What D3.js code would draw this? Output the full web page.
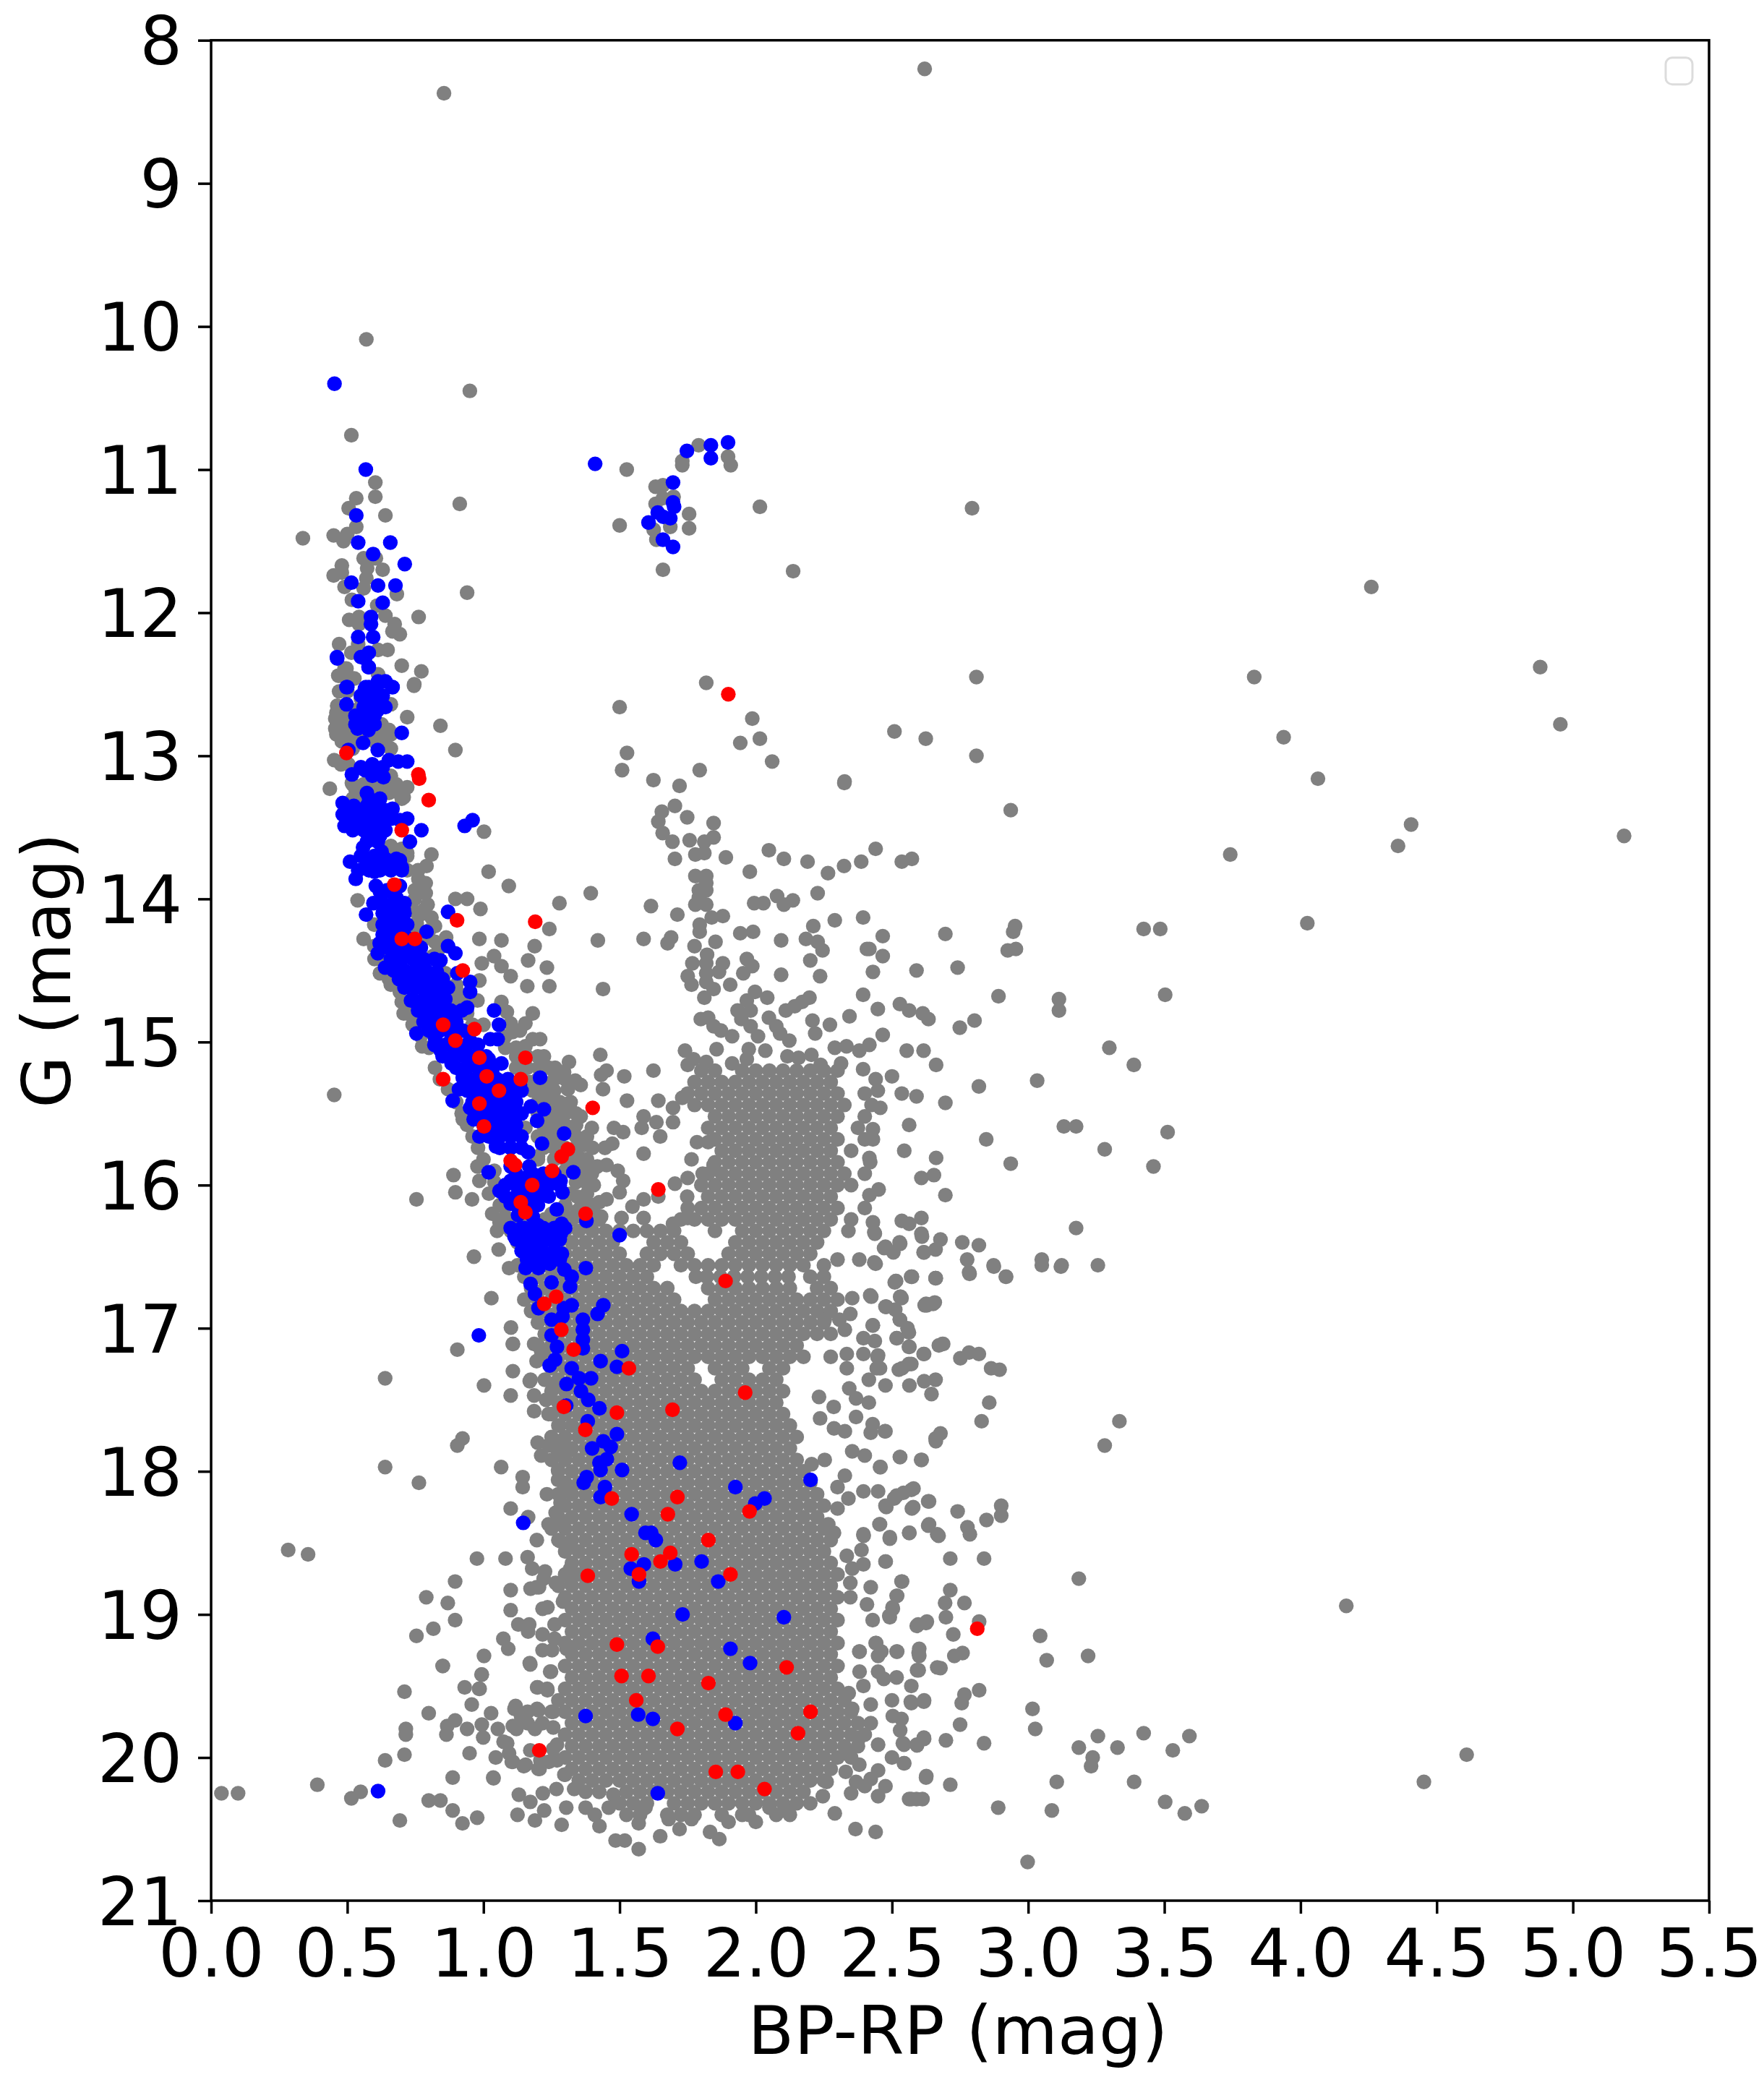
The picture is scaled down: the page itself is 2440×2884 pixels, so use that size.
<!DOCTYPE html>
<html>
<head>
<meta charset="utf-8">
<script src="https://d3js.org/d3.v7.min.js"></script>
<style>
html, body { margin: 0; padding: 0; background: #fff; }
svg { display: block; filter: blur(0.7px); }
text { font-family: "DejaVu Sans"; fill: #000; }
</style>
</head>
<body>
<svg width="2440" height="2884"></svg>
<script>
var xTicks = [0, 0.5, 1, 1.5, 2, 2.5, 3, 3.5, 4, 4.5, 5, 5.5];
var yTicks = [8, 9, 10, 11, 12, 13, 14, 15, 16, 17, 18, 19, 20, 21];

// field stars as [BP-RP, G]
var grayBright = [[2.62,8.2],[.855,8.37],[.57,10.09],[.95,10.45],[.515,10.76],[.603,11.09],[.603,11.19],[.533,11.2],[.505,11.27],[.64,11.32],[.913,11.24],[.533,11.4],[.45,11.46],[.5,11.45],[.486,11.5],[.337,11.48],[.56,11.62],[.605,11.62],[.63,11.7],[.573,11.69],[.48,11.67],[.45,11.74],[.48,11.72],[.57,11.76],[.49,11.82],[.56,11.83],[.682,11.87],[.94,11.86],[.517,11.91],[.61,11.95],[.64,12.02],[.507,12.05],[.543,12.03],[.762,12.03],[.674,12.08],[.543,12.08],[.666,12.13],[.693,12.15],[.47,12.22],[.54,12.22],[.648,12.26],[.613,12.26],[.515,12.28],[.7,12.37],[.772,12.41],[.497,12.39],[.467,12.44],[.526,12.46],[.613,12.43],[.746,12.5],[.745,12.51],
[1.526,11],[1.79,10.83],[1.898,10.91],[1.908,10.97],[1.73,10.94],[1.73,10.97],[1.632,11.12],[1.659,11.11],[1.632,11.24],[1.659,11.2],[1.698,11.19],[1.755,11.31],[1.755,11.41],[1.5,11.39],[1.686,11.4],[1.625,11.42],[1.635,11.49],[1.659,11.7],[2.015,11.26],[2.137,11.71],[1.818,12.49],
[4.26,11.82],[4.88,12.38],[4.954,12.78],[3.83,12.45],[3.938,12.87],[4.064,13.16],[4.406,13.48],[4.358,13.63],[3.742,13.69],[5.188,13.56],[4.025,14.17],[2.81,12.45],[2.81,13],[2.794,11.27],[2.936,13.38],[2.624,12.88],[2.509,12.83],[2.325,13.19]];

var grayBand = [[.49,12.39],[.47,12.44],[.517,12.46],[.463,12.65],[.456,12.74],[.456,12.81],[.49,12.81],[.504,12.73],[.626,12.78],[.653,12.82],[.599,12.86],[.517,12.88],[.55,12.6],[.53,12.68],[.6,12.72],[.48,12.9],[.531,13.24],[.653,13.26],[.707,13.29],[.72,13.22],[.517,13.19],[.612,13.22],[.66,13.14],[.477,13.06],[.504,13.06],[.66,12.64],[.66,13.63],[.68,13.67],[.72,13.68],[.761,13.86],[.788,13.89],[.748,13.94],[.788,13.96],[.748,14],[.795,14.04],[.768,14.11],[.809,14.13],[.822,14.19],[.755,14.17],[.538,14.01],[.599,14.18],[.822,14.3],[.863,14.27],[.836,14.35],[.815,14.4],[.599,14.33],[.653,14.56],[.693,14.65],[.876,14.63],[.904,14.65],[.978,14.71],[.985,14.57],[1.066,14.72],[1.086,14.79],[1.1,14.87],[1.134,14.92],[1.181,14.8],[1.154,14.87],[1.107,14.93],[1.181,14.98],[1.208,14.98],[1.154,15.03],[1.222,15.1],[1.263,15.18],[1.296,15.21],[1.202,15.18],[1.236,15.3],[1.168,15.28],[1.236,15.4],[1.317,15.46],[1.357,15.52],[1.29,15.51],[1.317,15.6],[1.236,15.56],[1.154,15.6],[1.371,15.72],[1.344,15.79],[1.371,15.87],[1.317,15.87],[1.385,16],[1.344,16.08],[1.425,16.12],[1.344,16.18],[1.432,16.22],[1.507,16.23],[.707,14.8],[.775,15.03],[.822,15.18],[.87,15.33],[.924,15.54],[.978,15.87],[.985,15.97],[.89,15.93],[.897,16.05],[.958,16.1],[.754,16.1],[.452,15.37],[1.032,16.2],[1.059,16.26],[1.27,15.7],[1.2,15.8],[1.3,15.9],[1.2,16.1],[1.25,16.2],
[.436,13.23],[.452,13.03],[.809,13.69],[.791,13.77],[.897,14],[.94,14],[.989,14.07],[.72,12.73],[.842,12.79],[.897,12.96],[1.002,13.53],[1.019,13.81],[1.093,13.91],[1.279,14.03],[1.394,13.96],[1.242,14.21],[1.188,14.33],[1.066,14.29],[.985,14.28],[1.233,14.48],[1.164,14.43],[1.039,14.4],[1.066,14.47],[1.1,14.54],[.994,14.45],[1.161,14.61],[1.242,14.61],[1.439,14.63],[1.42,14.29],
[1.429,15.09],[1.314,15.14],[1.27,15.2],[1.452,15.2],[1.432,15.23],[1.517,15.24],[1.624,15.2],[1.337,15.27],[1.357,15.3],[1.31,15.33],[1.439,15.33],[1.527,15.41],[1.642,15.41],[1.73,15.39],[1.696,15.46],[1.588,15.52],[1.635,15.56],[1.696,15.56],[1.581,15.6],[1.649,15.66],[1.398,15.6],[1.479,15.6],[1.513,15.63],[1.588,15.78],[1.446,15.74],[1.473,15.71],[1.764,15.82],[1.784,15.7],[1.825,15.7],[1.452,15.86],[1.493,15.9],[1.513,15.97],[1.5,16.05],[1.452,16.1],[1.405,16],[1.398,15.92],[1.418,15.87],[1.703,15.99],[1.75,15.95],[1.805,15.92],[1.845,15.86],[1.748,16.08],[1.547,16.15],[1.588,16.1],[1.642,16.08],[1.588,16.23],[1.696,16.27],[1.75,16.23]];

// gray stars behind the main sequence, [G, BP-RP, BP-RP, ...]
var grayBandRows = [[12.55,.47,.5],[12.7,.46,.48],[12.78,.48,.5,.52],[12.85,.46,.5,.54,.62,.66],[12.9,.56,.6,.64],[12.95,.52,.66],[13.2,.52,.56,.6,.64,.68],[13.25,.56,.6,.64,.68],[13.3,.52,.56,.62,.7],[13.65,.64,.7],[13.7,.68,.72],[13.8,.72,.76],[14.08,.74,.78],[14.22,.76,.8],[14.28,.56,.78],[14.42,.62,.6],[14.52,.62,.86],[14.6,.66,.86,.9],[14.72,.7,.9,.94],[14.8,.72,.74,.94],[14.88,.74,.96,1],[14.96,.77,1.08],[15.04,.8,1.08,1.12],
[15.1,1.12,1.16,1.2],[15.18,1.12,1.16,1.24],[15.26,.84,1.14,1.2,1.26,1.3],[15.34,1.18,1.22,1.26],[15.42,.9,1.2,1.24,1.28,1.32],[15.5,.92,1.2,1.26,1.3,1.34],[15.58,.94,1.22,1.26,1.3,1.34],[15.66,.96,1.2,1.24,1.28,1.34,1.38],[15.74,.98,1.22,1.26,1.3,1.34,1.4],[15.82,1,1.2,1.26,1.3,1.34,1.38],[15.9,1.04,1.32,1.36,1.4],[15.98,1.04,1.34,1.38],[16.06,1.02,1.32,1.38],[16.14,1.06,1.3,1.36,1.4],[16.22,1.08,1.3,1.36,1.42]];

var grayGiant = [[1.5,12.66],[1.987,12.74],[2.015,12.88],[1.943,12.91],[2.06,13.04],[1.527,12.98],[1.509,13.1],[1.624,13.17],[1.794,13.1],[1.72,13.21],[2.326,13.18],[1.703,13.35],[1.655,13.39],[1.642,13.46],[1.658,13.54],[1.694,13.6],[1.748,13.43],[1.845,13.47],[1.757,13.59],[1.845,13.57],[1.811,13.6],[1.778,13.69],[1.811,13.68],[1.703,13.72],[1.89,13.71],[2.048,13.66],[2.103,13.72],[2.19,13.74],[2.265,13.82],[2.324,13.77],[2.387,13.74],[1.978,13.81],[1.778,13.84],[1.818,13.84],[1.818,13.89],[1.791,13.94],[1.818,13.94],[1.778,14.04],[1.818,14.04],[1.791,13.99],[2.078,13.98],[2.103,14.04],[2.136,14.01],[2.227,13.96],[1.994,14.03],[2.028,14.03],[2.29,14.15],[2.394,14.13],[1.615,14.05],[1.712,14.11],[1.838,14.13],[1.879,14.12],[1.794,14.18],[1.794,14.23],[2.211,14.19],[1.943,14.24],[1.99,14.23],[1.588,14.28],[1.689,14.27],[1.676,14.31],[1.852,14.3],[1.775,14.33],[2.093,14.29],[2.184,14.28],[2.227,14.3],[2.245,14.36],[2.408,14.35],[1.821,14.39],[2.2,14.43],[1.967,14.42],[1.987,14.47],[1.954,14.52],[1.879,14.45],[1.865,14.51],[1.767,14.45],[1.818,14.45],[1.818,14.52],[1.75,14.54],[1.764,14.6],[1.818,14.58],[1.845,14.63],[1.811,14.69],[1.906,14.6],[2.093,14.53],[2.236,14.54],[2.394,14.67],
[1.997,14.65],[2.042,14.69],[1.967,14.71],[2.197,14.69],[2.17,14.72],[2.143,14.75],[2.11,14.78],[1.933,14.78],[1.981,14.78],[1.825,14.83],[1.798,14.84],[1.947,14.84],[2.048,14.83],[2.344,14.82],[2.208,14.85],[2.272,14.88],[1.845,14.89],[2.075,14.89],[1.981,14.89],[1.913,14.96],[1.872,14.92],[2.008,14.96],[2.089,14.94],[2.218,14.94],[2.123,14.99],[2.29,15.04],[2.333,15.03],[2.38,15.06],[1.74,15.06],[1.856,15.05],[1.974,15.05],[2.035,15.06],[2.116,15.1],[2.204,15.09],[1.771,15.12],[1.818,15.14],[1.913,15.15],[1.967,15.12],[2.157,15.11],[2.238,15.16],[2.313,15.15],[2.394,15.19],[1.75,15.16]];

var grayRight = [[2.44,13.65],[2.536,13.74],[2.573,13.72],[2.952,14.19],[2.945,14.23],[2.955,14.35],[2.925,14.36],[3.424,14.21],[3.485,14.21],[2.696,14.245],[2.466,14.26],[2.417,14.35],[2.466,14.4],[2.43,14.51],[2.59,14.5],[2.741,14.48],[2.891,14.68],[3.113,14.7],[3.113,14.78],[3.503,14.67],[2.529,14.735],[2.448,14.77],[2.563,14.78],[2.613,14.8],[2.634,14.84],[2.749,14.9],[2.803,14.85],[2.466,14.95],[2.417,15.02],[2.554,15.06],[2.616,15.06],[2.662,15.16],[3.298,15.04],[3.388,15.16],[3.033,15.27],[2.819,15.31],[2.5,15.24],[2.44,15.26],[2.448,15.34],[2.536,15.36],[2.59,15.38],[2.696,15.425],[2.457,15.46],[2.563,15.58],[2.43,15.61],[2.43,15.68],[3.131,15.59],[3.176,15.59],[3.512,15.63],[2.846,15.68],[2.545,15.76],[3.281,15.75],[2.662,15.81],[2.417,15.81],[2.936,15.85],[3.46,15.87],[2.654,15.93],[2.608,15.95],[2.696,16.07],[2.451,16.03],[2.417,16.07],[2.536,16.25],[2.563,16.27],[2.608,16.23],[2.608,16.34],[2.43,16.26],[2.437,16.34],[3.176,16.3],[2.528,16.4],[2.471,16.44],[2.505,16.47],[2.678,16.38],[2.66,16.45],[2.616,16.47],[2.758,16.4],[2.819,16.42],[2.776,16.52],[2.785,16.62],[2.873,16.56],[2.918,16.64],[3.05,16.52],[3.123,16.56],[3.256,16.56],[2.44,16.55],[2.573,16.64],[2.514,16.67],[2.66,16.65],[2.424,16.78],[2.532,16.78],[2.478,16.85],[2.512,16.87],[2.62,16.84],[2.651,16.83],[2.529,16.94],[2.43,16.98],[2.562,17.03],[2.518,17.07],[2.437,17.09],[2.562,17.13],[2.688,17.11],[2.616,17.18],[2.447,17.2],[2.751,17.21],[2.783,17.17],[2.819,17.18],[2.864,17.28],[2.895,17.29],[2.562,17.25],[2.525,17.29],[2.444,17.28],
[2.34,16.32],[2.435,16.33],[2.476,16.43],[2.53,16.41],[2.61,16.36],[2.618,16.47],[2.66,16.65],[2.57,16.64],[2.51,16.68],[2.435,16.54],[2.38,16.52],[2.3,16.52],[2.42,16.77],[2.354,16.79],[2.53,16.78],[2.476,16.85],[2.625,16.83],[2.347,16.9],[2.253,16.94],[2.307,16.94],[2.429,16.98],[2.557,17],[2.517,17.07],[2.395,17.07],[2.327,17.01],[2.564,17.13],[2.672,17.12],[2.618,17.18],[2.334,17.18],[2.395,17.18],[2.449,17.19],[2.334,17.28],[2.456,17.28],[2.537,17.28],[2.571,17.25],[2.415,17.36],[2.476,17.4],[2.564,17.4],[2.618,17.37],[2.66,17.36],[2.343,17.42],[2.645,17.46],[2.368,17.49],[2.415,17.52],[2.232,17.48],[2.286,17.55],[2.368,17.62],[2.236,17.63],[2.429,17.67],[2.476,17.72],[2.422,17.73],[2.66,17.77],[2.327,17.72],[2.287,17.7],[2.253,17.92],[2.354,17.86],[2.4,17.89],[2.53,17.9],[2.609,17.92],[2.456,17.97],[2.205,17.95],[2.327,18.03],[2.3,18.11],[2.395,18.14],[2.449,18.14],[2.476,18.24],[2.517,18.17],[2.571,18.13],[2.578,18.25],[2.636,18.21],[2.34,18.19],[2.3,18.26],[2.456,18.37],[2.395,18.44],[2.492,18.47],[2.564,18.43],[2.636,18.37],[2.666,18.44],[2.266,18.37],[2.287,18.43],[2.476,18.63],[2.537,18.77],[2.388,18.55],[2.334,18.59],[2.395,18.65],[2.354,18.68],[2.422,18.81],[2.347,18.78],[2.517,18.87],[2.503,18.96],[2.49,19.01],[2.347,18.88],[2.408,18.93],[2.429,19.04],[2.591,19.08],[2.625,19.06],[2.381,19.26],[2.442,19.2],[2.449,19.29],[2.517,19.26],[2.598,19.27],[2.598,19.39],[2.666,19.37],[2.449,19.4],[2.381,19.4],[2.517,19.44],[2.571,19.5],[2.395,19.5],[2.341,19.55],[2.571,19.62],[2.618,19.6],[2.422,19.63],[2.354,19.66],[2.503,19.71],[2.422,19.76],[2.53,19.81],[2.618,19.87],[2.591,19.91],[2.544,19.91],[2.449,19.91],[2.381,19.86],[2.341,19.96],[2.544,20.04],[2.449,20.09],[2.422,20.15],[2.625,20.14],[2.476,20.2],[2.368,20.17],[2.26,20.17],[2.449,20.27],[2.571,20.29],[2.612,20.29],[2.246,20.27],
[2.573,16.64],[2.661,16.65],[2.515,16.67],[2.783,16.61],[2.919,16.64],[2.874,16.57],[3.12,16.57],[3.05,16.56],[2.628,16.84],[2.657,16.82],[2.479,16.85],[2.535,16.79],[2.529,16.94],[2.685,17.11],[2.857,17.52],[2.829,17.65],[3.335,17.65],[3.281,17.82],[2.678,17.735],[2.661,17.79],[2.474,17.72],[2.529,17.9],[2.607,17.92],[2.458,17.97],[2.579,18.12],[2.542,18.15],[2.508,18.19],[2.479,18.25],[2.633,18.21],[2.573,18.26],[2.741,18.28],[2.901,18.24],[2.901,18.31],[2.847,18.34],[2.633,18.38],[2.671,18.45],[2.777,18.39],[2.786,18.44],[2.563,18.43],[2.492,18.46],[2.454,18.37],[2.396,18.45],[2.477,18.63],[2.714,18.61],[2.838,18.61],[3.186,18.75],[2.535,18.77],[2.714,18.83],[2.519,18.87],[2.695,18.92],[2.766,18.92],[2.502,18.95],[2.492,19.02],[2.698,19.02],[2.82,19.05],[2.628,19.05],[2.596,19.07],[2.725,19.14],[3.044,19.15],[4.168,18.94],[3.068,19.32],[3.22,19.29],[2.759,19.27],[2.729,19.29],[2.6,19.24],[2.6,19.29],[2.519,19.26],[2.678,19.375],[2.592,19.39],[2.82,19.53],[2.766,19.56],[2.756,19.62],[2.617,19.61],[2.569,19.61],[3.016,19.66],[3.026,19.8],[2.75,19.77],[2.617,19.86],[2.592,19.915],[2.698,19.88],[2.838,19.9],[3.256,19.85],[3.186,19.93],[3.328,19.93],[3.424,19.83],[3.531,19.95],[3.592,19.85],[3.237,20],[3.231,20.06],[3.105,20.17],[3.389,20.17],[2.626,20.13],[2.714,20.19],[2.545,20.04],[2.59,20.29],[2.563,20.29],[2.89,20.35],[3.087,20.37],[3.503,20.31],[3.575,20.39],[3.637,20.34],[2.366,20.5],[2.44,20.52],[2.29,20.39],[4.61,19.98],[4.453,20.17],[2.998,20.73],
[2.44,19.2],[2.38,19.26],[2.461,19.26],[2.535,19.73],[2.5,19.6],[2.47,19.45],[2.54,19.9],[2.5,20],[2.38,20.05],[2.33,20.1],[2.4,20.2],[2.35,20.25]];

var grayLeft = [[.904,17.15],[1.108,17.11],[.639,17.35],[1.002,17.4],[1.108,17.3],[1.17,17.37],[1.1,17.47],[.923,17.77],[.904,17.82],[.639,17.97],[.763,18.08],[1.065,17.97],[1.144,18.04],[1.144,18.11],[1.233,18.16],[1.1,18.26],[1.164,18.32],[1.196,18.48],[.283,18.55],[.356,18.58],[.976,18.61],[1.081,18.61],[1.162,18.6],[1.179,18.68],[1.226,18.7],[.896,18.77],[.79,18.88],[.869,18.92],[.896,19.04],[.816,19.1],[.754,19.15],[1.1,18.83],[1.1,18.97],[1.217,18.96],[1.235,18.95],[1.173,18.82],[1.204,18.81],[1.128,19.07],[1.168,19.07],[1.164,19.12],[1.073,19.17],[1.091,19.24],[1.217,19.14],[1.261,19.07],[1.261,19.17],[1.217,19.25],[1.252,19.25],[1.305,19.24],[1.002,19.29],[.851,19.36],[1.17,19.34],[1.248,19.4],[.993,19.42],[.71,19.54],[.931,19.51],[.984,19.52],[1.199,19.51],[1.235,19.53],
[1.186,17.11],[1.212,17.16],[1.195,17.23],[1.257,17.4],[1.186,17.47],[1.23,17.5],[1.186,17.58],[1.239,17.6],[1.279,17.68],[1.199,17.8],[1.239,17.82],[1.283,17.79],[1.212,17.89],[1.274,17.87],[1.319,17.85],[1.274,17.99],[1.274,18.06],[1.31,18.14],[1.283,18.22],[1.265,18.29],[1.239,18.37],[1.283,18.37],[1.283,18.49],[1.319,18.53],[1.319,18.68],[1.265,18.78],[1.195,18.81],[1.221,18.75],[1.319,18.75],[1.292,18.91],
[.038,20.25],[.099,20.25],[.39,20.19],[.549,20.24],[.515,20.285],[.693,20.44],[.799,20.3],[.842,20.3],[.887,20.37],[.923,20.46],[.977,20.42],[.887,20.14],[.639,20.02],[.71,19.98],[.715,19.84],[.715,19.8],[.799,19.69],[.864,19.84],[.867,19.78],[.896,19.74],[.94,19.8],[.994,19.77],[.999,19.86],[1.028,19.69],[.949,19.97],[.957,19.63],[.986,19.52],[.85,19.36],[.994,19.42],[1.172,19.35],[1.245,19.4],[1.197,19.51],[1.234,19.52],[1.118,19.64],[1.197,19.66],[1.256,19.68],[1.138,19.71],[1.053,19.8],[1.121,19.8],[1.189,19.8],[1.256,19.79],[1.045,20],[1.087,19.9],[1.104,20.03],[1.155,20.05],[1.206,20.08],[1.036,20.14],[1.172,19.95],[1.256,19.94],[1.24,20.03],[1.3,20.12],[1.13,20.26],[1.218,20.25],[1.268,20.22],[1.172,20.31],[1.125,20.4],[1.189,20.44],[1.223,20.37],[1.304,20.35],[1.287,20.47],[1.333,20.22],[1.375,20.35],[1.409,20.4],[1.426,20.48],[1.46,20.35],[1.477,20.26],[1.485,20.58],[1.519,20.58],[1.57,20.64],[1.57,20.46],[1.649,20.55],[1.595,20.35],[1.68,20.43],[1.764,20.43],[1.832,20.52],[1.866,20.57],[1.9,20.45],[1.95,20.4],[2.0,20.45],[2.05,20.35],[2.12,20.38],[1.72,20.5],
[.965,16.5],[1.056,16.45],[1.094,16.58],[1.029,16.79],[1.101,16.995],[1.108,17.11],[1.173,17.36],[1.27,19.91],[1.27,20.02],[1.297,20.12],[1.202,19.67],[1.25,19.68],[1.162,19.68],[1.114,19.66],[1.162,19.76],[1.216,19.76],[1.108,19.78],[1.074,19.89],[1.094,19.97],[1.108,20.03],[1.148,20.06],[1.202,20.08],[1.209,20.02],[1.037,20.145]];

// dense part of the diagram, [G, BP-RP, BP-RP, ...]
var coreRows = [
[15.2,1.8,1.85,1.95,2,2.05,2.1,2.15,2.2,2.25,2.3],
[15.28,1.775,1.825,1.875,1.925,1.975,2.025,2.075,2.125,2.175,2.225,2.275],
[15.36,1.75,1.8,1.85,1.9,1.95,2,2.05,2.1,2.15,2.2,2.25,2.3,2.4],
[15.44,1.775,1.825,1.875,1.925,1.975,2.025,2.075,2.125,2.175,2.225,2.275,2.325,2.425],
[15.52,1.85,1.9,1.95,2,2.05,2.1,2.15,2.2,2.25,2.3,2.4],
[15.6,1.825,1.875,1.925,1.975,2.025,2.075,2.125,2.175,2.225,2.275,2.375],
[15.68,1.85,1.9,1.95,2,2.05,2.1,2.15,2.2,2.25,2.3,2.4],
[15.76,1.875,1.925,1.975,2.025,2.075,2.125,2.175,2.225,2.275,2.35],
[15.84,1.85,1.9,1.95,2,2.05,2.1,2.15,2.2,2.25,2.3,2.42],
[15.92,1.825,1.875,1.925,1.975,2.025,2.075,2.125,2.175,2.225,2.275,2.325,2.4],
[16,1.8,1.85,1.9,1.95,2,2.05,2.1,2.15,2.2,2.25,2.3,2.35],
[16.08,1.825,1.875,1.925,1.975,2.025,2.075,2.125,2.175,2.225,2.275],
[16.16,1.75,1.8,1.85,1.9,1.95,2,2.05,2.1,2.15,2.2,2.25,2.3,2.4],
[16.24,1.075,1.125,1.175,1.225,1.275,1.325,1.375,1.425,1.725,1.775,1.825,1.875,1.925,1.975,2.025,2.075,2.125,2.175,2.225,2.275,2.35],
[16.32,1.05,1.1,1.15,1.2,1.25,1.3,1.35,1.4,1.45,1.5,1.55,1.6,1.65,1.7,1.85,1.95,2,2.05,2.1,2.15,2.2,2.25],
[16.4,1.125,1.175,1.225,1.275,1.325,1.375,1.425,1.475,1.625,1.675,1.725,1.925,1.975,2.025,2.075,2.125,2.175,2.225],
[16.48,1.15,1.2,1.25,1.3,1.35,1.4,1.45,1.5,1.6,1.65,1.7,1.75,1.9,1.95,2,2.05,2.1,2.15,2.2],
[16.56,1.125,1.175,1.225,1.275,1.325,1.375,1.425,1.475,1.525,1.575,1.625,1.725,1.775,1.825,1.875,1.925,1.975,2.025,2.075,2.125,2.175,2.25],
[16.64,1.15,1.2,1.25,1.3,1.35,1.4,1.45,1.5,1.55,1.6,1.78,1.82,1.87,1.92,1.97,2.02,2.07,2.12,2.2,2.25],
[16.72,1.175,1.225,1.275,1.325,1.375,1.425,1.475,1.525,1.575,1.625,1.675,1.825,1.875,1.925,1.975,2.025,2.075,2.125,2.225,2.275],
[16.8,1.15,1.2,1.25,1.3,1.35,1.4,1.45,1.5,1.55,1.6,1.65,1.7,1.85,1.9,1.95,2,2.05,2.1,2.15,2.2,2.25,2.3],
[16.88,1.175,1.225,1.275,1.325,1.375,1.425,1.475,1.525,1.575,1.625,1.675,1.725,1.775,1.825,1.875,1.925,1.975,2.025,2.075,2.125,2.175,2.225,2.275],
[16.96,1.2,1.25,1.3,1.35,1.4,1.45,1.5,1.55,1.6,1.65,1.7,1.75,1.8,1.85,1.9,1.95,2,2.05,2.1,2.15,2.2,2.25],
[17.04,1.225,1.275,1.325,1.375,1.425,1.475,1.525,1.575,1.625,1.675,1.725,1.775,1.825,1.875,1.925,1.975,2.025,2.075,2.125,2.175,2.225,2.275],
[17.12,1.2,1.25,1.3,1.35,1.4,1.45,1.5,1.55,1.6,1.65,1.7,1.75,1.8,1.85,1.9,1.95,2,2.05,2.1,2.15],
[17.2,1.225,1.275,1.325,1.375,1.425,1.475,1.525,1.575,1.625,1.675,1.725,1.775,1.825,1.875,1.925,1.975,2.025,2.075,2.125,2.175,2.275],
[17.28,1.25,1.3,1.35,1.4,1.45,1.5,1.55,1.6,1.65,1.7,1.75,1.85,1.9,1.95,2.05,2.1],
[17.36,1.225,1.275,1.325,1.375,1.425,1.475,1.525,1.575,1.625,1.675,1.725,1.775,1.875,1.925,1.975,2.025,2.075],
[17.44,1.25,1.3,1.35,1.4,1.45,1.5,1.55,1.6,1.65,1.7,1.75,1.8,1.85,1.9,1.95,2,2.05,2.1],
[17.52,1.275,1.325,1.375,1.425,1.475,1.525,1.575,1.625,1.675,1.725,1.775,1.825,1.875,1.925,1.975,2.025,2.075],
[17.6,1.25,1.3,1.35,1.4,1.45,1.5,1.55,1.6,1.65,1.7,1.75,1.8,1.85,1.9,1.95,2,2.05,2.1],
[17.68,1.275,1.325,1.375,1.425,1.475,1.525,1.575,1.625,1.675,1.725,1.775,1.825,1.875,1.925,1.975,2.025,2.075,2.125],
[17.76,1.25,1.3,1.35,1.4,1.45,1.5,1.55,1.6,1.65,1.7,1.75,1.8,1.85,1.9,1.95,2,2.05,2.1,2.15],
[17.84,1.275,1.325,1.375,1.425,1.475,1.525,1.575,1.625,1.675,1.725,1.775,1.825,1.875,1.925,1.975,2.025,2.075,2.125],
[17.92,1.25,1.3,1.35,1.4,1.45,1.5,1.55,1.6,1.65,1.7,1.75,1.8,1.85,1.9,1.95,2,2.05,2.1,2.15],
[18,1.275,1.325,1.375,1.425,1.475,1.525,1.575,1.625,1.675,1.725,1.775,1.825,1.875,1.925,1.975,2.025,2.075,2.125,2.175],
[18.08,1.3,1.35,1.4,1.45,1.5,1.55,1.6,1.65,1.7,1.75,1.8,1.85,1.9,1.95,2,2.05,2.1,2.15,2.2],
[18.16,1.275,1.325,1.375,1.425,1.475,1.525,1.575,1.625,1.675,1.725,1.775,1.825,1.875,1.925,1.975,2.025,2.075,2.125,2.175,2.225],
[18.24,1.3,1.35,1.4,1.45,1.5,1.55,1.6,1.65,1.7,1.75,1.8,1.85,1.9,1.95,2,2.05,2.1,2.15,2.2,2.25],
[18.32,1.275,1.325,1.375,1.425,1.475,1.525,1.575,1.625,1.675,1.725,1.775,1.825,1.875,1.925,1.975,2.025,2.075,2.125,2.175,2.225],
[18.4,1.25,1.3,1.35,1.4,1.45,1.5,1.55,1.6,1.65,1.7,1.75,1.8,1.85,1.9,1.95,2,2.05,2.1,2.15,2.2,2.25],
[18.48,1.275,1.325,1.375,1.425,1.475,1.525,1.575,1.625,1.675,1.725,1.775,1.825,1.875,1.925,1.975,2.025,2.075,2.125,2.175,2.225,2.275],
[18.56,1.3,1.35,1.4,1.45,1.5,1.55,1.6,1.65,1.7,1.75,1.8,1.85,1.9,1.95,2,2.05,2.1,2.15,2.2,2.25],
[18.64,1.325,1.375,1.425,1.475,1.525,1.575,1.625,1.675,1.725,1.775,1.825,1.875,1.925,1.975,2.025,2.075,2.125,2.175,2.225,2.275],
[18.72,1.3,1.35,1.4,1.45,1.5,1.55,1.6,1.65,1.7,1.75,1.8,1.85,1.9,1.95,2,2.05,2.1,2.15,2.2,2.25,2.3],
[18.8,1.275,1.325,1.375,1.425,1.475,1.525,1.575,1.625,1.675,1.725,1.775,1.825,1.875,1.925,1.975,2.025,2.075,2.125,2.175,2.225,2.275],
[18.88,1.3,1.35,1.4,1.45,1.5,1.55,1.6,1.65,1.7,1.75,1.8,1.85,1.9,1.95,2,2.05,2.1,2.15,2.2,2.25,2.3],
[18.96,1.325,1.375,1.425,1.475,1.525,1.575,1.625,1.675,1.725,1.775,1.825,1.875,1.925,1.975,2.025,2.075,2.125,2.175,2.225,2.275],
[19.04,1.3,1.35,1.4,1.45,1.5,1.55,1.6,1.65,1.7,1.75,1.8,1.85,1.9,1.95,2,2.05,2.1,2.15,2.2,2.25,2.3],
[19.12,1.325,1.375,1.425,1.475,1.525,1.575,1.625,1.675,1.725,1.775,1.825,1.875,1.925,1.975,2.025,2.075,2.125,2.175,2.225,2.275],
[19.2,1.3,1.35,1.4,1.45,1.5,1.55,1.6,1.65,1.7,1.75,1.8,1.85,1.9,1.95,2,2.05,2.1,2.15,2.2,2.25,2.3],
[19.28,1.325,1.375,1.425,1.475,1.525,1.575,1.625,1.675,1.725,1.775,1.825,1.875,1.925,1.975,2.025,2.075,2.125,2.175,2.225,2.275],
[19.36,1.3,1.35,1.4,1.45,1.5,1.55,1.6,1.65,1.7,1.75,1.8,1.85,1.9,1.95,2,2.05,2.1,2.15,2.2,2.25,2.3],
[19.44,1.325,1.375,1.425,1.475,1.525,1.575,1.625,1.675,1.725,1.775,1.825,1.875,1.925,1.975,2.025,2.075,2.125,2.175,2.225,2.275],
[19.52,1.3,1.35,1.4,1.45,1.5,1.55,1.6,1.65,1.7,1.75,1.8,1.85,1.9,1.95,2,2.05,2.1,2.15,2.2,2.25,2.3],
[19.6,1.275,1.325,1.375,1.425,1.475,1.525,1.575,1.625,1.675,1.725,1.775,1.825,1.875,1.925,1.975,2.025,2.075,2.125,2.175,2.225,2.275,2.325],
[19.68,1.3,1.35,1.4,1.45,1.5,1.55,1.6,1.65,1.7,1.75,1.8,1.85,1.9,1.95,2,2.05,2.1,2.15,2.2,2.25,2.3,2.35],
[19.76,1.325,1.375,1.425,1.475,1.525,1.575,1.625,1.675,1.725,1.775,1.825,1.875,1.925,1.975,2.025,2.075,2.125,2.175,2.225,2.275,2.325,2.375],
[19.84,1.3,1.35,1.4,1.45,1.5,1.55,1.6,1.65,1.7,1.75,1.8,1.85,1.9,1.95,2,2.05,2.1,2.15,2.2,2.25,2.3,2.35,2.4],
[19.92,1.325,1.375,1.425,1.475,1.525,1.575,1.625,1.675,1.725,1.775,1.825,1.875,1.925,1.975,2.025,2.075,2.125,2.175,2.225,2.275,2.325,2.375],
[20,1.3,1.35,1.4,1.45,1.5,1.55,1.6,1.65,1.7,1.75,1.8,1.85,1.9,1.95,2,2.05,2.1,2.15,2.2,2.25,2.3,2.35],
[20.08,1.325,1.375,1.425,1.475,1.525,1.575,1.625,1.675,1.725,1.775,1.825,1.875,1.925,1.975,2.025,2.075,2.125,2.175,2.225,2.275],
[20.16,1.35,1.4,1.45,1.5,1.55,1.6,1.65,1.7,1.75,1.8,1.85,1.9,1.95,2,2.05,2.1,2.15,2.2,2.25],
[20.24,1.375,1.425,1.525,1.575,1.625,1.675,1.725,1.775,1.825,1.875,1.925,1.975,2.025,2.075,2.125,2.175],
[20.32,1.5,1.55,1.6,1.7,1.75,1.8,1.85,1.9,1.95,2,2.05,2.1,2.15,2.2],
[20.4,1.525,1.575,1.675,1.725,1.775,1.875,1.975,2.075,2.125]
];

// stars picked out in blue and red
var bluePts = [[.453,10.4],[.568,11],[.533,11.32],[.54,11.51],[.658,11.51],[.595,11.59],[.711,11.66],[.515,11.79],[.613,11.81],[.677,11.81],[.54,11.92],[.63,11.93],[.587,12.03],[.587,12.08],[.54,12.17],[.595,12.17],[.462,12.31],[.579,12.28],[.55,12.31],[.579,12.38],[.5,12.52],[.568,12.52],[.613,12.48],[.64,12.48],[.666,12.52],[.58,12.52],
[1.41,10.96],[1.747,10.87],[1.835,10.83],[1.835,10.92],[1.898,10.81],[1.696,11.09],[1.696,11.23],[1.7,11.26],[1.64,11.3],[1.686,11.34],[1.66,11.33],[1.606,11.37],[1.659,11.49],[1.696,11.54],
[.463,12.32],[.565,12.32],[.578,12.38],[.497,12.52],[.497,12.64],[.565,12.53],[.612,12.5],[.666,12.52],[.572,12.62],[.626,12.6],[.612,12.68],[.544,12.74],[.572,12.77],[.538,12.81],[.578,12.82],[.7,12.84],[.558,12.91],[.612,12.96],[.504,12.96],[.653,13.03],[.687,13.04],[.72,13.04],[.592,13.06],[.565,13.1],[.517,13.13],[.592,13.14],[.633,13.15],[.572,13.26],[.483,13.33],[.524,13.35],[.572,13.35],[.612,13.36],[.666,13.37],[.483,13.41],[.538,13.41],[.49,13.49],[.551,13.5],[.612,13.5],[.639,13.46],[.72,13.44],[.693,13.45],[.772,13.52],[.73,13.6],[.931,13.49],[.96,13.45],[.572,13.6],[.612,13.6],[.558,13.64],[.626,13.67],[.51,13.74],[.565,13.78],[.612,13.76],[.666,13.76],[.7,13.78],[.531,13.86],[.6,13.81],[.693,13.73],[.605,13.91],[.646,13.94],[.693,13.91],[.596,14.03],[.569,14.11],[.68,13.99],[.666,14.07],[.707,14.07],[.66,14.15],[.7,14.16],[.673,14.21],[.791,14.23],[.87,14.09],[.619,14.31],[.612,14.38],[.666,14.3],[.707,14.33],[.755,14.33],[.639,14.48],[.68,14.38],[.734,14.4],[.775,14.45],[.87,14.33],[.897,14.38],[.842,14.43],[.693,14.48],[.829,14.51],[.707,14.58],[.761,14.58],[.815,14.58],[.904,14.52],[.951,14.58],[.951,14.65],[.734,14.71],[.788,14.67],[.842,14.66],[.802,14.76],[.856,14.76],[.795,14.84],[.94,14.76],[1.039,14.78],[1.057,14.88],[.754,14.94],[.883,14.81],[.924,14.92],[.822,14.97],[.883,14.97],[.951,14.99],[1.025,14.98],[1.052,14.98],[.843,15.06],[.897,15.07],[.951,15.1],[.883,15.15],[.937,15.18],[1.019,15.12],[1.066,15.15],[1.032,15.2],[1.208,15.25],[.924,15.25],[.964,15.28],[1.1,15.3],[1.134,15.3],[1.005,15.33],[.91,15.33],[.887,15.41],[.951,15.46],[1.073,15.46],[1.019,15.38],[1.174,15.45],[1.222,15.47],[1.197,15.55],[.964,15.54],[1.032,15.54],[1.113,15.6],[.985,15.66],[1.046,15.66],[1.1,15.66],[1.296,15.64],[1.215,15.71],[1.046,15.73],[1.164,15.77],[1.1,15.74],[1.019,15.91],[1.33,15.91],[1.1,15.87],[1.168,15.87],[1.1,15.97],[1.154,15.95],[1.235,15.97],[1.283,15.97],[1.059,16.04],[1.127,16.05],[1.208,16.05],[1.29,16.05],[1.1,16.13],[1.269,16.17],[1.127,16.21],[1.181,16.22],[1.287,16.27],[1.378,16.25],[1.15,16.3],[1.2,16.28],
[1.5,16.35],[1.114,16.36],[1.162,16.38],[1.216,16.34],[1.284,16.34],[1.148,16.46],[1.216,16.46],[1.288,16.48],[1.376,16.58],[1.155,16.58],[1.202,16.58],[1.243,16.55],[1.297,16.59],[1.324,16.64],[1.25,16.68],[1.173,16.69],[1.318,16.71],[1.189,16.76],[1.202,16.86],[1.324,16.84],[1.295,16.86],[1.44,16.84],[1.419,16.9],[1.25,16.94],[1.29,16.92],[1.365,16.94],[1.365,17.01],[1.25,17.05],[1.365,17.08],[1.27,17.13],[1.365,17.14],[.983,17.05],[1.509,17.16],[1.43,17.23],[1.49,17.27],[1.263,17.22],[1.243,17.26],[1.324,17.28],[1.351,17.35],[1.395,17.35],[1.305,17.39],[1.358,17.44],[1.385,17.5],[1.304,17.54],[1.426,17.56],[1.383,17.65],[1.49,17.74],[1.44,17.79],[1.399,17.84],[1.467,17.83],[1.453,17.915],[1.426,17.94],[1.43,17.99],[1.509,17.99],[1.721,17.94],[1.379,18.04],[1.368,18.08],[1.446,18.11],[1.43,18.18],[1.925,18.11],[2.201,18.06],[2.032,18.19],[1.998,18.225],[1.544,18.3],[1.146,18.36],[1.595,18.43],[1.616,18.43],[1.633,18.48],[1.589,18.65],[1.704,18.65],[1.801,18.63],[1.541,18.68],[1.571,18.77],[1.862,18.77],[1.731,19],[2.103,19.02],[1.622,19.17],[1.907,19.24],[1.979,19.34],[1.375,19.71],[1.568,19.7],[1.622,19.73],[1.925,19.76],[.613,20.235],[1.64,20.25]];

// the packed blue part of the main sequence, [G, BP-RP, BP-RP, ...]
var blueRows = [[12.58,.55,.59,.63],[12.66,.56,.6,.64],[12.72,.53,.57,.6],[12.78,.53,.56,.6],[13.08,.55,.6,.63],[13.3,.58,.62],[13.38,.5,.55,.6,.64],[13.44,.5,.54,.58,.62,.66],[13.52,.52,.56,.6,.64],[13.56,.58,.62,.6],[13.7,.55,.6],[13.72,.58,.64,.68],[13.8,.54,.58,.62,.66,.7],[13.95,.62,.66],[14.03,.63,.67,.71],[14.1,.63,.67,.71],[14.18,.63,.68,.72],[14.25,.63,.67,.71],[14.34,.65,.69,.73,.77],[14.42,.66,.7,.74,.78,.82],[14.5,.67,.71,.75,.79],[14.56,.69,.73,.77,.81,.85],[14.62,.71,.75,.79,.83,.87],[14.7,.74,.78,.82,.86],[14.78,.76,.8,.84,.88,.92],[14.86,.78,.82,.86,.9],[14.92,.8,.84,.88],[15.02,.82,.86,.9,.94,.98],[15.1,.85,.89,.93,.97,1.01],[15.18,.9,.94,.98,1.02],[15.26,.93,.97,1.01,1.05,1.09],[15.34,.94,.98,1.02,1.06,1.1,1.14],[15.42,.96,1,1.04,1.08,1.12],[15.5,.98,1.02,1.06,1.1,1.14],[15.58,1,1.04,1.08,1.12],[15.66,1.02,1.06,1.14],[15.74,1.06,1.1,1.14],[15.92,1.12,1.18,1.22,1.26],[16,1.08,1.12,1.16,1.2,1.24,1.28],[16.08,1.08,1.12,1.16,1.2,1.24],[16.14,1.12,1.16,1.2],[16.3,1.1,1.14,1.18,1.22,1.26,1.3],[16.38,1.12,1.2,1.24,1.28],[16.46,1.14,1.18,1.26],[16.52,1.16,1.2,1.24,1.28]];

var redPts = [[.497,12.98],[.761,13.13],[.764,13.16],[.799,13.31],[.7,13.52],[.673,13.9],[.903,14.15],[.7,14.28],[.748,14.28],[1.19,14.16],[.924,14.5],[.852,14.88],[.967,14.91],[.897,14.99],[.985,15.11],[1.154,15.11],[.852,15.26],[1.012,15.24],[1.137,15.26],[1.057,15.34],[.985,15.43],[1.401,15.46],[1.002,15.59],[1.31,15.75],[1.287,15.8],[1.1,15.83],[1.116,15.86],[1.252,15.9],[1.179,16],[1.642,16.03],[1.137,16.12],[1.154,16.19],[1.375,16.2],[1.899,12.57],
[1.889,16.67],[1.223,16.83],[1.267,16.78],[1.286,17.01],[1.331,17.15],[1.534,17.28],[1.961,17.45],[1.295,17.55],[1.49,17.59],[1.694,17.57],[1.374,17.71],[1.471,18.19],[1.712,18.18],[1.677,18.3],[1.977,18.28],[1.826,18.48],[1.544,18.58],[1.686,18.57],[1.65,18.63],[1.571,18.72],[1.383,18.73],[1.907,18.72],[1.49,19.21],[1.64,19.225],[2.113,19.37],[1.507,19.43],[1.606,19.43],[1.826,19.48],[1.561,19.6],[1.889,19.7],[2.201,19.68],[1.712,19.8],[2.155,19.83],[1.205,19.95],[1.853,20.1],[1.934,20.1],[2.032,20.22],[2.813,19.1]];

var svg = d3.select("svg");
var margin = { top: 55.7, right: 76, bottom: 255, left: 292 };
var width = +svg.attr("width") - margin.left - margin.right;
var height = +svg.attr("height") - margin.top - margin.bottom;

var x = d3.scaleLinear().domain([0, 5.5]).range([0, width]);
var y = d3.scaleLinear().domain([8, 21]).range([0, height]);

var g = svg.append("g").attr("transform", "translate(" + margin.left + "," + margin.top + ")");

// [G, c, c, ...] rows to [c, G] pairs
function unrow(rows) {
    var pts = [];
    rows.forEach(function(r) {
        r.slice(1).forEach(function(c) { pts.push([c, r[0]]); });
    });
    return pts;
}

var gray = grayBright.concat(grayBand, unrow(grayBandRows), grayGiant, grayRight, grayLeft, unrow(coreRows));
var blue = bluePts.concat(unrow(blueRows));

function drawStars(pts, colour) {
    g.append("g").selectAll("circle")
        .data(pts)
        .enter().append("circle")
        .attr("cx", function(d) { return x(d[0]); })
        .attr("cy", function(d) { return y(d[1]); })
        .attr("r", 10.2)
        .style("fill", colour);
}
drawStars(gray, "#808080");
drawStars(blue, "#0000ff");
drawStars(redPts, "#ff0000");

// empty legend box
g.append("rect")
    .attr("x", width - 60)
    .attr("y", 24)
    .attr("width", 37)
    .attr("height", 37)
    .attr("rx", 9)
    .style("fill", "none")
    .style("stroke", "#dcdcdc")
    .style("stroke-width", 3);

var xAxis = d3.axisBottom(x).tickValues(xTicks).tickFormat(d3.format(".1f")).tickSize(18).tickPadding(22);
var yAxis = d3.axisLeft(y).tickValues(yTicks).tickFormat(d3.format("d")).tickSize(18).tickPadding(22);

g.append("g").attr("transform", "translate(0," + height + ")").call(xAxis);
g.append("g").call(yAxis);

g.selectAll(".domain").remove();
g.selectAll(".tick line").style("stroke", "#000").style("stroke-width", 3.5);
g.selectAll(".tick text").style("font-size", "92px").style("font-family", '"DejaVu Sans"');
g.selectAll(".tick text").filter(function() { return this.getAttribute("dy") === "0.32em"; }).attr("dy", "0.36em");

g.append("rect")
    .attr("width", width)
    .attr("height", height)
    .style("fill", "none")
    .style("stroke", "#000")
    .style("stroke-width", 3.5);

svg.append("text")
    .attr("x", margin.left + width / 2 - 3)
    .attr("y", 2841)
    .attr("text-anchor", "middle")
    .style("font-size", "93px")
    .text("BP-RP (mag)");

svg.append("text")
    .attr("transform", "translate(97," + (margin.top + height / 2) + ") rotate(-90)")
    .attr("text-anchor", "middle")
    .style("font-size", "93px")
    .text("G (mag)");
</script>
</body>
</html>
